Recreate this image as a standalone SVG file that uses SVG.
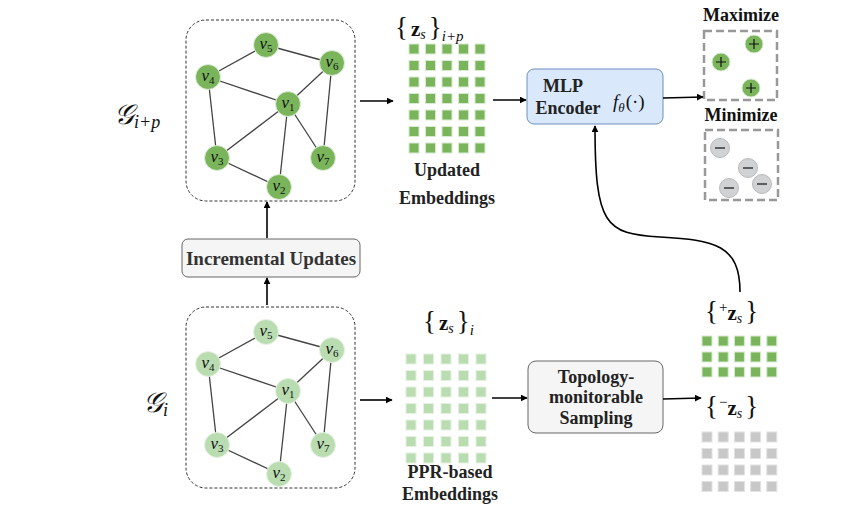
<svg xmlns="http://www.w3.org/2000/svg" width="858" height="506" viewBox="0 0 858 506">
<style>
.box{fill:none;stroke:#333;stroke-width:1;stroke-dasharray:3 2}
.edge{stroke:#444;stroke-width:1.3}
.nT{fill:#7ab55c;stroke:#e0eedb;stroke-width:1}
.nB{fill:#b9dcb0;stroke:#e6f2e2;stroke-width:1}
.nl{font-family:"Liberation Serif",serif;font-style:italic;font-size:17px;fill:#111;text-anchor:middle}
.nl tspan{font-style:normal;font-size:11px}
.b{font-family:"Liberation Serif",serif;font-weight:bold;font-size:18px;fill:#222;text-anchor:middle}
.m{font-family:"Liberation Serif",serif;fill:#111}
.conn{fill:none;stroke:#000;stroke-width:1.6}
.sqT{fill:#7ab55c;stroke:#d8ead0;stroke-width:1}
.sqB{fill:#b9dcb0;stroke:#e4f1e0;stroke-width:1}
.sqG{fill:#c8c8c8;stroke:#e2e2e2;stroke-width:1}
.dash{fill:none;stroke:#999;stroke-width:2.5;stroke-dasharray:8 4}
</style>
<defs>
<marker id="ah" viewBox="0 0 10 10" refX="9" refY="5" markerWidth="7" markerHeight="7" markerUnits="userSpaceOnUse" orient="auto"><path d="M0,0L10,5L0,10z" fill="#000"/></marker>
<g id="rowT"><rect x="0" y="0" width="10" height="10" class="sqT"/><rect x="16.5" y="0" width="10" height="10" class="sqT"/><rect x="33" y="0" width="10" height="10" class="sqT"/><rect x="49.5" y="0" width="10" height="10" class="sqT"/><rect x="66" y="0" width="10" height="10" class="sqT"/></g>
<g id="rowB"><rect x="0" y="0" width="10" height="10" class="sqB"/><rect x="17.5" y="0" width="10" height="10" class="sqB"/><rect x="35" y="0" width="10" height="10" class="sqB"/><rect x="52.5" y="0" width="10" height="10" class="sqB"/><rect x="70" y="0" width="10" height="10" class="sqB"/></g>
<g id="rowG"><rect x="0" y="0" width="10" height="10" class="sqG"/><rect x="16.2" y="0" width="10" height="10" class="sqG"/><rect x="32.4" y="0" width="10" height="10" class="sqG"/><rect x="48.6" y="0" width="10" height="10" class="sqG"/><rect x="64.8" y="0" width="10" height="10" class="sqG"/></g>
<g id="rowP"><rect x="0" y="0" width="10" height="10" class="sqT"/><rect x="16.2" y="0" width="10" height="10" class="sqT"/><rect x="32.4" y="0" width="10" height="10" class="sqT"/><rect x="48.6" y="0" width="10" height="10" class="sqT"/><rect x="64.8" y="0" width="10" height="10" class="sqT"/></g>
</defs>
<rect width="858" height="506" fill="#fff"/>

<g id="graph-top">
<rect x="186" y="20" width="169" height="181" rx="20" class="box"/>
<g class="edge">
<line x1="266" y1="45" x2="208" y2="77"/><line x1="266" y1="45" x2="332" y2="63"/>
<line x1="208" y1="77" x2="288" y2="104"/><line x1="332" y1="63" x2="288" y2="104"/>
<line x1="332" y1="63" x2="323" y2="158"/><line x1="208" y1="77" x2="217" y2="158"/>
<line x1="288" y1="104" x2="217" y2="158"/><line x1="288" y1="104" x2="279" y2="187"/>
<line x1="288" y1="104" x2="323" y2="158"/><line x1="217" y1="158" x2="279" y2="187"/>
</g>
<circle cx="266" cy="45" r="12.5" class="nT"/><circle cx="332" cy="63" r="12.5" class="nT"/>
<circle cx="208" cy="77" r="12.5" class="nT"/><circle cx="288" cy="104" r="12.5" class="nT"/>
<circle cx="217" cy="158" r="12.5" class="nT"/><circle cx="323" cy="158" r="12.5" class="nT"/>
<circle cx="279" cy="187" r="12.5" class="nT"/>
<text class="nl" x="266" y="49">v<tspan dy="3">5</tspan></text>
<text class="nl" x="332" y="67">v<tspan dy="3">6</tspan></text>
<text class="nl" x="208" y="81">v<tspan dy="3">4</tspan></text>
<text class="nl" x="288" y="108">v<tspan dy="3">1</tspan></text>
<text class="nl" x="217" y="162">v<tspan dy="3">3</tspan></text>
<text class="nl" x="323" y="162">v<tspan dy="3">7</tspan></text>
<text class="nl" x="279" y="191">v<tspan dy="3">2</tspan></text>
</g>
<text id="label-gip" class="m" x="114" y="124" font-size="28" font-style="italic">𝒢<tspan font-size="18" dy="4">i+p</tspan></text>

<g id="graph-bottom">
<rect x="186" y="307" width="169" height="181" rx="20" class="box"/>
<g class="edge">
<line x1="266" y1="332" x2="208" y2="364"/><line x1="266" y1="332" x2="332" y2="350"/>
<line x1="208" y1="364" x2="288" y2="391"/><line x1="332" y1="350" x2="288" y2="391"/>
<line x1="332" y1="350" x2="323" y2="445"/><line x1="208" y1="364" x2="217" y2="445"/>
<line x1="288" y1="391" x2="217" y2="445"/><line x1="288" y1="391" x2="279" y2="474"/>
<line x1="288" y1="391" x2="323" y2="445"/><line x1="217" y1="445" x2="279" y2="474"/>
</g>
<circle cx="266" cy="332" r="12.5" class="nB"/><circle cx="332" cy="350" r="12.5" class="nB"/>
<circle cx="208" cy="364" r="12.5" class="nB"/><circle cx="288" cy="391" r="12.5" class="nB"/>
<circle cx="217" cy="445" r="12.5" class="nB"/><circle cx="323" cy="445" r="12.5" class="nB"/>
<circle cx="279" cy="474" r="12.5" class="nB"/>
<text class="nl" x="266" y="336">v<tspan dy="3">5</tspan></text>
<text class="nl" x="332" y="354">v<tspan dy="3">6</tspan></text>
<text class="nl" x="208" y="368">v<tspan dy="3">4</tspan></text>
<text class="nl" x="288" y="395">v<tspan dy="3">1</tspan></text>
<text class="nl" x="217" y="449">v<tspan dy="3">3</tspan></text>
<text class="nl" x="323" y="449">v<tspan dy="3">7</tspan></text>
<text class="nl" x="279" y="478">v<tspan dy="3">2</tspan></text>
</g>
<text id="label-gi" class="m" x="143" y="412" font-size="28" font-style="italic">𝒢<tspan font-size="18" dy="4">i</tspan></text>

<g id="incremental">
<rect x="182" y="239" width="178" height="38" rx="6" fill="#f5f5f5" stroke="#666" stroke-width="1"/>
<text class="b" x="271" y="265" style="fill:#333;font-size:19px">Incremental Updates</text>
</g>

<g id="emb-top">
<text class="m" x="395" y="36"><tspan font-size="27">{</tspan><tspan font-size="21" font-weight="bold" dx="3">z</tspan><tspan font-size="14" font-style="italic" dy="3">s</tspan><tspan font-size="27" dy="-3" dx="3">}</tspan><tspan font-size="15" font-style="italic" dy="5">i+p</tspan></text>
<use href="#rowT" x="409" y="44"/><use href="#rowT" x="409" y="60.5"/><use href="#rowT" x="409" y="77"/>
<use href="#rowT" x="409" y="93.5"/><use href="#rowT" x="409" y="110"/><use href="#rowT" x="409" y="126.5"/>
<use href="#rowT" x="409" y="143"/>
<text class="b" x="447" y="176">Updated</text>
<text class="b" x="447" y="204">Embeddings</text>
</g>

<g id="emb-bottom">
<text class="m" x="423" y="330"><tspan font-size="27">{</tspan><tspan font-size="21" font-weight="bold" dx="3">z</tspan><tspan font-size="14" font-style="italic" dy="3">s</tspan><tspan font-size="27" dy="-3" dx="3">}</tspan><tspan font-size="15" font-style="italic" dy="5">i</tspan></text>
<use href="#rowB" x="406" y="354"/><use href="#rowB" x="406" y="370.5"/><use href="#rowB" x="406" y="387"/>
<use href="#rowB" x="406" y="403.5"/><use href="#rowB" x="406" y="420"/><use href="#rowB" x="406" y="436.5"/>
<use href="#rowB" x="406" y="453"/>
<text class="b" x="450" y="478">PPR-based</text>
<text class="b" x="450" y="500">Embeddings</text>
</g>

<g id="mlp">
<rect x="527" y="69" width="136" height="55" rx="7" fill="#dae8fc" stroke="#6c8ebf" stroke-width="1"/>
<text class="b" x="563" y="92">MLP</text>
<text class="b" x="568" y="114">Encoder</text>
<text class="m" x="613" y="108" font-size="19" font-style="italic">f<tspan font-size="13" dy="4">θ</tspan><tspan font-style="normal" dy="-4" dx="1">(·)</tspan></text>
</g>

<g id="sampling">
<rect x="528" y="361" width="135" height="72" rx="8" fill="#f5f5f5" stroke="#666" stroke-width="1"/>
<text class="b" x="596" y="383">Topology-</text>
<text class="b" x="596" y="403">monitorable</text>
<text class="b" x="596" y="424">Sampling</text>
</g>

<g id="maximize">
<text class="b" x="741" y="21" style="fill:#111">Maximize</text>
<rect x="704" y="31" width="73" height="69" class="dash"/>
<circle cx="754" cy="44" r="9" fill="#7ab55c" stroke="#d8ead0"/>
<circle cx="721" cy="62" r="9" fill="#7ab55c" stroke="#d8ead0"/>
<circle cx="751" cy="88" r="9" fill="#7ab55c" stroke="#d8ead0"/>
<g stroke="#111" stroke-width="1.2"><path d="M749,44h10M754,39v10"/><path d="M716,62h10M721,57v10"/><path d="M746,88h10M751,83v10"/></g>
</g>

<g id="minimize">
<text class="b" x="741" y="121" style="fill:#111">Minimize</text>
<rect x="705" y="130" width="73" height="70" class="dash"/>
<circle cx="720" cy="148" r="9.5" fill="#d0d2d4" stroke="#b8babc"/>
<circle cx="748" cy="168" r="9.5" fill="#d0d2d4" stroke="#b8babc"/>
<circle cx="729" cy="188" r="9.5" fill="#d0d2d4" stroke="#b8babc"/>
<circle cx="762" cy="184" r="9.5" fill="#d0d2d4" stroke="#b8babc"/>
<g stroke="#111" stroke-width="1.2"><path d="M715,148h10"/><path d="M743,168h10"/><path d="M724,188h10"/><path d="M757,184h10"/></g>
</g>

<g id="pos-samples">
<text class="m" x="705" y="320"><tspan font-size="27">{</tspan><tspan font-size="15" dy="-8" dx="1">+</tspan><tspan font-size="21" font-weight="bold" dy="8">z</tspan><tspan font-size="14" font-style="italic" dy="3">s</tspan><tspan font-size="27" dy="-3" dx="3">}</tspan></text>
<use href="#rowP" x="702" y="336"/><use href="#rowP" x="702" y="352"/><use href="#rowP" x="702" y="367"/>
</g>

<g id="neg-samples">
<text class="m" x="705" y="415"><tspan font-size="27">{</tspan><tspan font-size="15" dy="-8" dx="1">−</tspan><tspan font-size="21" font-weight="bold" dy="8">z</tspan><tspan font-size="14" font-style="italic" dy="3">s</tspan><tspan font-size="27" dy="-3" dx="3">}</tspan></text>
<use href="#rowG" x="702" y="432"/><use href="#rowG" x="702" y="448.5"/><use href="#rowG" x="702" y="465"/><use href="#rowG" x="702" y="481.5"/>
</g>

<g id="connectors">
<line x1="267" y1="305" x2="267" y2="278" class="conn" marker-end="url(#ah)"/>
<line x1="267" y1="238" x2="267" y2="202" class="conn" marker-end="url(#ah)"/>
<line x1="360" y1="101" x2="393" y2="101" class="conn" marker-end="url(#ah)"/>
<line x1="493" y1="100" x2="526" y2="100" class="conn" marker-end="url(#ah)"/>
<line x1="663" y1="98" x2="703" y2="97" class="conn" marker-end="url(#ah)"/>
<line x1="360" y1="400" x2="392" y2="400" class="conn" marker-end="url(#ah)"/>
<line x1="492" y1="398" x2="527" y2="398" class="conn" marker-end="url(#ah)"/>
<line x1="663" y1="399" x2="701" y2="398" class="conn" marker-end="url(#ah)"/>
<path d="M740,292 C740,245 715,240 660,237 C605,234 595,225 595,126" class="conn" marker-end="url(#ah)"/>
</g>
</svg>
